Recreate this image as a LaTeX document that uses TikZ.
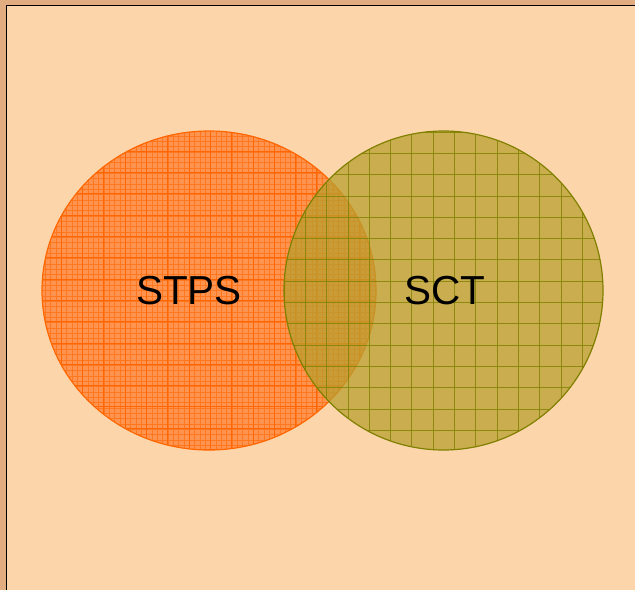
\documentclass[tikz,border=0pt]{standalone}
\usepackage{fontspec}
\setmainfont{Liberation Sans}
\definecolor{bgpeach}{HTML}{FDD5AA}
\definecolor{rimtan}{HTML}{E0AC80}
\definecolor{orfill}{HTML}{FF9450}
\definecolor{orline}{HTML}{FF6600}
\definecolor{olfill}{HTML}{B8A030}
\definecolor{olline}{HTML}{808000}
\tikzset{
  lbl/.style={font=\fontsize{40.5}{42}\selectfont, text=black, inner sep=0pt}
}
\begin{document}
\begin{tikzpicture}[x=1pt,y=-1pt]
\useasboundingbox (0,0) rectangle (635,590);
\fill[rimtan] (0,0) rectangle (635,590);
\fill[bgpeach] (6,5) rectangle (635,590);
\draw[black, line width=1.6pt] (6.5,590) -- (6.5,5.5) -- (635,5.5);
% STPS ellipse
\begin{scope}
  \clip (209,290.5) ellipse [x radius=167, y radius=159.5];
  \fill[orfill] (40,120) rectangle (380,460);
  \foreach \i in {0,...,64} {
    \draw[orline!60!orfill, line width=0.5pt] (40+\i*5.33,120) -- (40+\i*5.33,460);
    \draw[orline!60!orfill, line width=0.5pt] (40,120+\i*5.33) -- (380,120+\i*5.33);
  }
  \foreach \i in {0,...,16} {
    \draw[orline, line width=0.9pt] (40+\i*21.3,120) -- (40+\i*21.3,460);
    \draw[orline, line width=0.9pt] (40,130+\i*21.3) -- (380,130+\i*21.3);
  }
\end{scope}
\draw[orline, line width=1.2pt] (209,290.5) ellipse [x radius=167, y radius=159.5];
% SCT circle
\begin{scope}
  \clip (443.5,290.5) circle [radius=159.5];
  \fill[olfill, fill opacity=0.75] (280,128) rectangle (606,453);
  \foreach \i in {0,...,16} {
    \draw[olline, line width=0.7pt, opacity=0.8] (284+\i*21.3,128) -- (284+\i*21.3,453);
    \draw[olline, line width=0.7pt, opacity=0.8] (280,132+\i*21.3) -- (606,132+\i*21.3);
  }
\end{scope}
\draw[olline, line width=1.2pt] (443.5,290.5) circle [radius=159.5];
\node[lbl] (stps) at (189,291) {STPS};
\node[lbl] (sct) at (444.5,291) {SCT};
\end{tikzpicture}
\end{document}
